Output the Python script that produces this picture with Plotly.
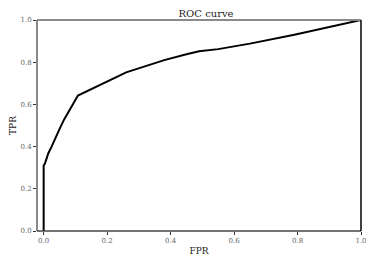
import plotly.graph_objects as go

fpr = [0.0, 0.0, 0.004, 0.006, 0.010, 0.015, 0.025, 0.036, 0.052, 0.065, 0.078, 0.090, 0.108,
       0.26, 0.38, 0.45, 0.49, 0.55, 0.65, 0.79, 0.92, 1.0]
tpr = [0.0, 0.31, 0.32, 0.33, 0.35, 0.37, 0.40, 0.44, 0.49, 0.53, 0.565, 0.60, 0.642,
       0.752, 0.81, 0.838, 0.852, 0.862, 0.888, 0.93, 0.975, 1.0]
tick_vals = [0.0, 0.2, 0.4, 0.6, 0.8, 1.0]
tick_text = ["0.0", "0.2", "0.4", "0.6", "0.8", "1.0"]

FONT = "DejaVu Serif"
W, H = 366, 256  # page has an 8px body margin

fig = go.Figure()
fig.add_trace(go.Scatter(x=fpr, y=tpr, mode="lines",
                         line=dict(color="black", width=2), showlegend=False))

fig.update_layout(
    width=W, height=H,
    margin=dict(l=29, r=13, t=12, b=33, autoexpand=False),
    paper_bgcolor="white", plot_bgcolor="white",
    font=dict(family=FONT, color="#222"),
    title=dict(text="ROC curve", x=(29 + 162) / W, xanchor="center", xref="paper",
               y=1 - 5.5 / H, yanchor="middle", automargin=False,
               font=dict(size=10, family=FONT, color="#222")),
    xaxis=dict(range=[-0.021, 1.0], tickmode="array", tickvals=tick_vals, ticktext=tick_text,
               showgrid=False, zeroline=False, showline=False, automargin=False,
               ticks="outside", ticklen=3, tickwidth=1, tickcolor="#333",
               tickfont=dict(size=7, family=FONT, color="#666"),
               title=dict(text="FPR", font=dict(size=9, family=FONT, color="#222"), standoff=3)),
    yaxis=dict(range=[0, 1.0], tickmode="array", tickvals=tick_vals, ticktext=tick_text,
               showgrid=False, zeroline=False, showline=False, automargin=False,
               ticks="outside", ticklen=3, tickwidth=1, tickcolor="#333",
               tickfont=dict(size=7, family=FONT, color="#666"),
               title=dict(text="TPR", font=dict(size=9, family=FONT, color="#222"), standoff=12)),
)

# spines
fig.add_shape(type="line", xref="x domain", yref="y domain", x0=0, x1=0, y0=0, y1=1,
              line=dict(color="#8a8a8a", width=2))
fig.add_shape(type="line", xref="x domain", yref="y domain", x0=0, x1=1, y0=1, y1=1,
              line=dict(color="#8a8a8a", width=2))
fig.add_shape(type="line", xref="x domain", yref="y domain", x0=0, x1=1, y0=0, y1=0,
              line=dict(color="#444", width=1.5))
fig.add_shape(type="line", xref="x domain", yref="y domain", x0=1, x1=1, y0=0, y1=1,
              line=dict(color="black", width=1.5))

fig.write_html("out.html")
